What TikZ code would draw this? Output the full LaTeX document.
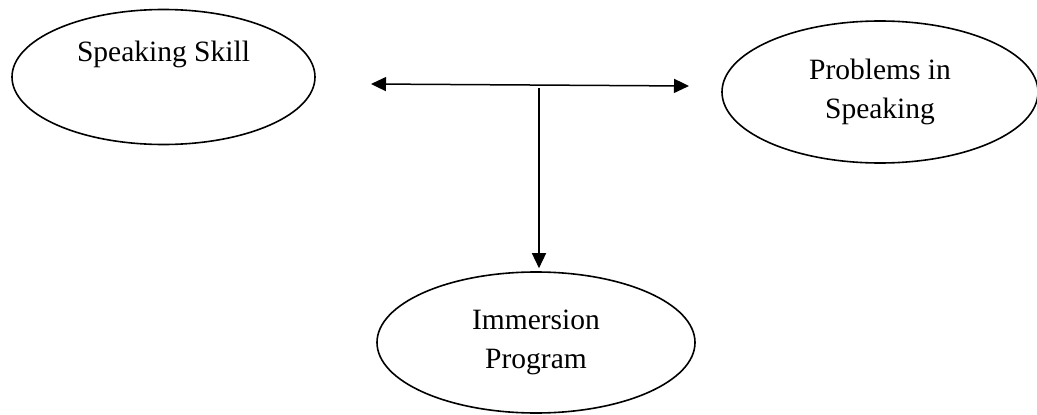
\documentclass[tikz,border=0pt]{standalone}
\usepackage{fontspec}
\setmainfont{Liberation Serif}
\usetikzlibrary{shapes.geometric,arrows.meta}
\tikzset{
  oval/.style={draw, ellipse, line width=1.6pt, inner sep=0pt, align=center,
    font=\fontsize{29.5}{39}\selectfont},
  link/.style={line width=1.5pt, -{Triangle[length=15pt,width=14pt]}},
}
\begin{document}
\begin{tikzpicture}[x=1pt,y=-1pt]
\useasboundingbox (0,0) rectangle (1037,415);
\node[oval, minimum width=303pt, minimum height=135pt] (skill) at (163.5,77) {Speaking Skill\\\strut};
\node[oval, minimum width=316pt, minimum height=142pt] (prob) at (880,92) {Problems in\\Speaking};
\node[oval, minimum width=318pt, minimum height=141pt] (imm) at (536,342.5) {Immersion\\Program};
\coordinate (hl) at (371,84);
\coordinate (hr) at (689,86);
\coordinate (hm) at (539,88);
\draw[link, {Triangle[length=15pt,width=14pt]}-{Triangle[length=15pt,width=14pt]}] (hl) -- (hr);
\draw[link, shorten >=3pt] (hm) -- (hm |- imm.north);
\end{tikzpicture}
\end{document}
